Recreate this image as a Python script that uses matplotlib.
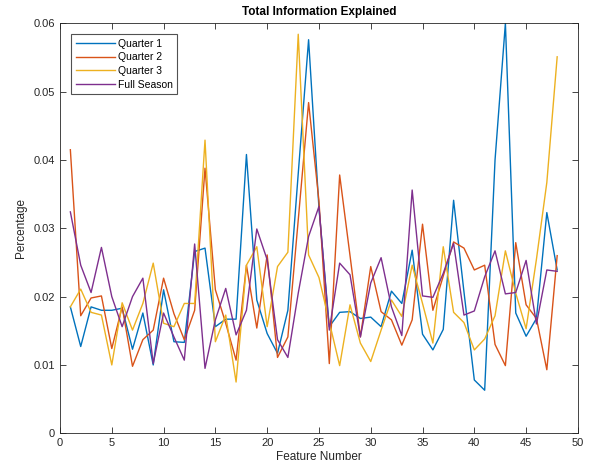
import matplotlib
matplotlib.use("Agg")
import matplotlib.pyplot as plt
import numpy as np

plt.rcParams['font.family'] = ['Liberation Sans', 'DejaVu Sans']

features = list(range(1, 49))

quarter1 = [0.0185, 0.0127, 0.0185, 0.0180, 0.0180, 0.0183, 0.0123, 0.0176, 0.0100, 0.0210,
            0.0134, 0.0133, 0.0266, 0.0271, 0.0156, 0.0167, 0.0167, 0.0408, 0.0195, 0.0146,
            0.0117, 0.0180, 0.0380, 0.0576, 0.0330, 0.0156, 0.0177, 0.0178, 0.0168, 0.0170,
            0.0156, 0.0208, 0.0190, 0.0268, 0.0145, 0.0122, 0.0152, 0.0341, 0.0207, 0.0078,
            0.0063, 0.0400, 0.0600, 0.0176, 0.0142, 0.0168, 0.0323, 0.0239]

quarter2 = [0.0415, 0.0172, 0.0198, 0.0201, 0.0124, 0.0185, 0.0098, 0.0137, 0.0151, 0.0227,
            0.0175, 0.0137, 0.0180, 0.0388, 0.0210, 0.0161, 0.0107, 0.0246, 0.0154, 0.0261,
            0.0111, 0.0141, 0.0312, 0.0484, 0.0340, 0.0102, 0.0378, 0.0260, 0.0141, 0.0244,
            0.0178, 0.0166, 0.0129, 0.0166, 0.0306, 0.0180, 0.0230, 0.0280, 0.0271, 0.0239,
            0.0246, 0.0130, 0.0099, 0.0279, 0.0188, 0.0168, 0.0093, 0.0260]

quarter3 = [0.0185, 0.0211, 0.0177, 0.0173, 0.0100, 0.0191, 0.0151, 0.0190, 0.0249, 0.0161,
            0.0156, 0.0190, 0.0190, 0.0429, 0.0134, 0.0173, 0.0075, 0.0246, 0.0273, 0.0156,
            0.0244, 0.0265, 0.0584, 0.0261, 0.0228, 0.0163, 0.0099, 0.0188, 0.0132, 0.0105,
            0.0151, 0.0195, 0.0171, 0.0246, 0.0190, 0.0132, 0.0273, 0.0177, 0.0162, 0.0122,
            0.0138, 0.0172, 0.0267, 0.0205, 0.0153, 0.0255, 0.0367, 0.0551]

full_season = [0.0324, 0.0246, 0.0206, 0.0272, 0.0200, 0.0156, 0.0200, 0.0227, 0.0102, 0.0176,
               0.0141, 0.0107, 0.0277, 0.0095, 0.0166, 0.0212, 0.0144, 0.0180, 0.0299, 0.0254,
               0.0137, 0.0111, 0.0205, 0.0288, 0.0332, 0.0151, 0.0249, 0.0232, 0.0141, 0.0220,
               0.0257, 0.0185, 0.0143, 0.0356, 0.0201, 0.0199, 0.0234, 0.0278, 0.0173, 0.0179,
               0.0229, 0.0267, 0.0204, 0.0206, 0.0253, 0.0160, 0.0239, 0.0237]

series_names = ['Quarter 1', 'Quarter 2', 'Quarter 3', 'Full Season']
colors = ['#0072BD', '#D95319', '#EDB120', '#7E2F8E']

fig = plt.figure(figsize=(5.97, 4.73), dpi=100)
ax = fig.add_axes([0.1005, 0.084, 0.8675, 0.8667])

for vals, name, c in zip([quarter1, quarter2, quarter3, full_season], series_names, colors):
    ax.plot(features, vals, color=c, lw=1.0, label=name)

ax.set_xlim(0, 50)
ax.set_ylim(0, 0.06)
ax.set_xticks(np.arange(0, 51, 5))
ax.set_yticks(np.arange(0, 0.061, 0.01))
ax.set_yticklabels(['0', '0.01', '0.02', '0.03', '0.04', '0.05', '0.06'])
ax.tick_params(direction='in', top=True, right=True, labelsize=8, length=4, width=0.6,
               colors='#262626')
for s in ax.spines.values():
    s.set_linewidth(0.6)
    s.set_color('#262626')

ax.set_title('Total Information Explained', fontsize=8.5, fontweight='bold', pad=6)
ax.set_xlabel('Feature Number', fontsize=8.5, labelpad=2, color='#262626')
ax.set_ylabel('Percentage', fontsize=8.5, labelpad=5, color='#262626')

leg = ax.legend(loc='upper left', fontsize=7.5, frameon=True, fancybox=False,
                edgecolor='#262626', handlelength=3.7, handletextpad=0.3,
                borderpad=0.45, labelspacing=0.36, bbox_to_anchor=(0.012, 0.987))
leg.get_frame().set_linewidth(0.8)

fig.savefig('out.png', dpi=100)
